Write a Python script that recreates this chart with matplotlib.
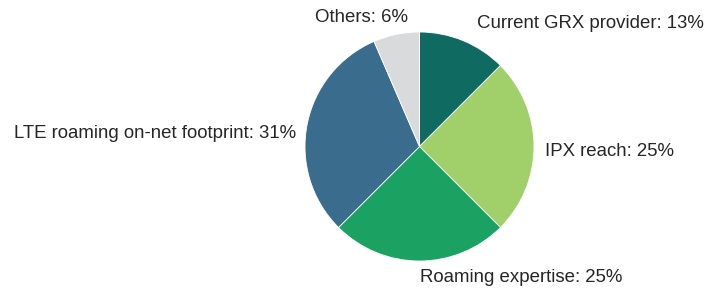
import matplotlib
matplotlib.use("Agg")
import matplotlib.pyplot as plt

# slice shares (clockwise from 12 o'clock)
categories = ["Current GRX provider", "IPX reach", "Roaming expertise",
              "LTE roaming on-net footprint", "Others"]
shares = [12.5, 25, 25, 31, 6.5]
labels = ["Current GRX provider: 13%", "IPX reach: 25%", "Roaming expertise: 25%",
          "LTE roaming on-net footprint: 31%", "Others: 6%"]
colors = ["#0f6b62", "#a1d06a", "#1ba262", "#3a6d8d", "#d9dadc"]

W, H = 708, 291
cx, cy, r = 419.5, 146.5, 114.5

plt.rcParams["font.family"] = ["Liberation Sans", "DejaVu Sans"]

fig = plt.figure(figsize=(W / 100, H / 100), dpi=100)
ax = fig.add_axes([(cx - r) / W, (H - cy - r) / H, 2 * r / W, 2 * r / H])
ax.pie(shares, colors=colors, startangle=90, counterclock=False,
       wedgeprops=dict(edgecolor="white", linewidth=0.6))
ax.set_xlim(-1, 1)
ax.set_ylim(-1, 1)
ax.set_aspect("equal")
ax.axis("off")

# label anchors in pixels: (x, y, horizontal alignment)
anchors = [(477, 24, "left"), (545, 152, "left"), (420, 277, "left"),
           (296, 134, "right"), (408, 17, "right")]
for lab, (px, py, ha) in zip(labels, anchors):
    ax.text((px - cx) / r, (cy - py) / r, lab, ha=ha, va="center",
            fontsize=13.4, color="#262626", clip_on=False)

fig.savefig("out.png", dpi=100)
